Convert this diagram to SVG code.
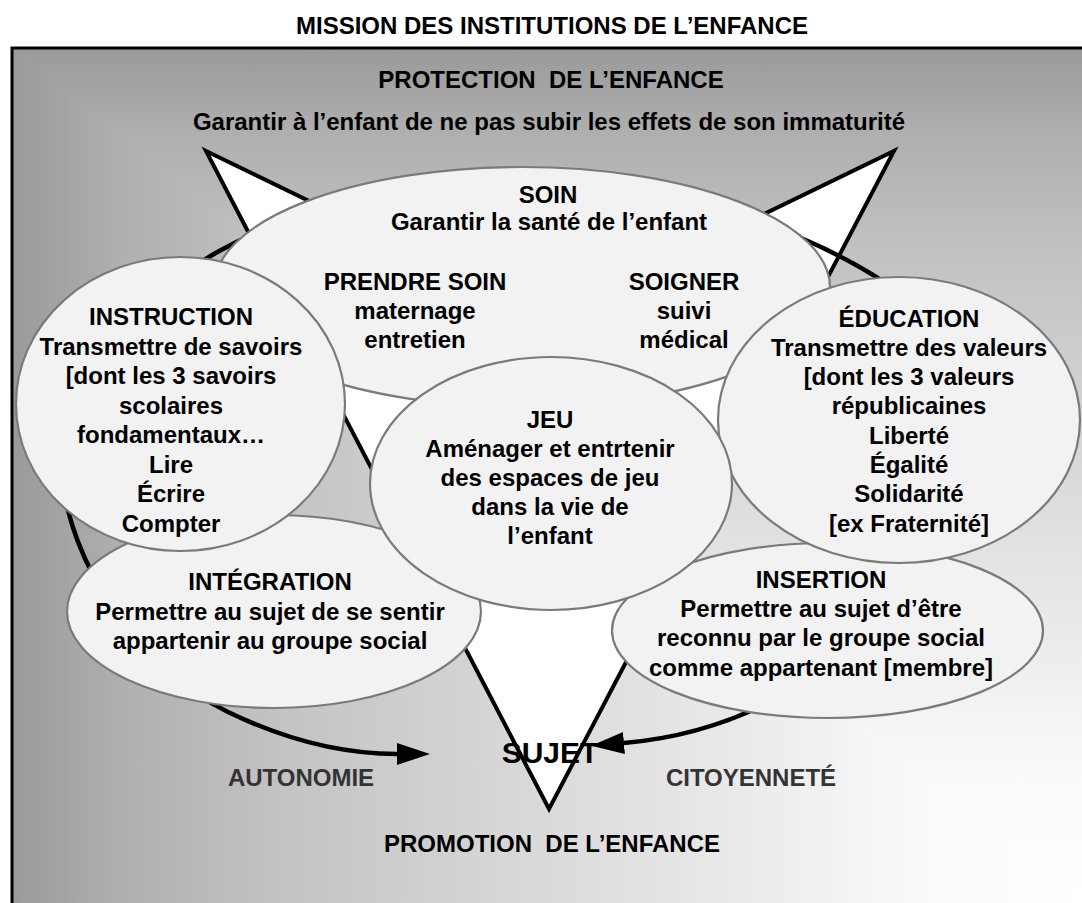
<svg xmlns="http://www.w3.org/2000/svg" width="1082" height="903" viewBox="0 0 1082 903">
<defs>
<style>
text{font-family:"Liberation Sans",Arial,sans-serif;font-weight:bold;font-size:24px;text-anchor:middle;fill:#000}
.node ellipse{fill:#f2f2f2;stroke:#7a7a7a;stroke-width:2.2}
.muted{fill:#333}
.arc{fill:none;stroke:#000;stroke-width:4.5;marker-end:url(#arrow)}
.star{fill:#fff;stroke:#000;stroke-width:4;stroke-linejoin:miter}
</style>
<linearGradient id="gh" gradientUnits="userSpaceOnUse" x1="1082" y1="0" x2="12" y2="0">
<stop offset="0" stop-color="#ffffff"/>
<stop offset="0.15" stop-color="#fafafa"/>
<stop offset="0.3" stop-color="#ececec"/>
<stop offset="0.5" stop-color="#dadada"/>
<stop offset="0.75" stop-color="#c3c3c3"/>
<stop offset="0.9" stop-color="#afafaf"/>
<stop offset="1" stop-color="#9a9a9a"/>
</linearGradient>
<linearGradient id="gv" gradientUnits="userSpaceOnUse" x1="0" y1="903" x2="0" y2="48">
<stop offset="0" stop-color="#ffffff"/>
<stop offset="0.15" stop-color="#fafafa"/>
<stop offset="0.3" stop-color="#ececec"/>
<stop offset="0.5" stop-color="#dadada"/>
<stop offset="0.75" stop-color="#c3c3c3"/>
<stop offset="0.9" stop-color="#afafaf"/>
<stop offset="1" stop-color="#9a9a9a"/>
</linearGradient>
<marker id="arrow" markerUnits="userSpaceOnUse" markerWidth="34" markerHeight="24" refX="0" refY="12" orient="auto" viewBox="0 0 34 24">
<path d="M0,1 L33,12 L0,23 z" fill="#000"/>
</marker>
</defs>
<rect width="1082" height="903" fill="#fff"/>
<g id="background">
<rect x="12" y="48" width="1070" height="855" fill="url(#gv)"/>
<polygon points="12,48 1082,903 12,903" fill="url(#gh)"/>
<rect x="12" y="48" width="1090" height="880" fill="none" stroke="#000" stroke-width="3"/>
</g>
<text x="552" y="34">MISSION DES INSTITUTIONS DE L’ENFANCE</text>
<g id="protection">
<text x="551" y="88" xml:space="preserve">PROTECTION  DE L’ENFANCE</text>
<text x="549" y="130">Garantir à l’enfant de ne pas subir les effets de son immaturité</text>
</g>
<g id="star">
<polygon class="star" points="206,151 550,318 894,151 549,809"/>
</g>
<g id="connectors">
<path class="arc" d="M300,221 C200,238 62,350 62,470 C66,560 140,670 228,712 C290,742 345,754 397,754"/>
<path class="arc" d="M760,222 C920,280 990,360 990,440 C990,520 930,570 870,620 C820,690 720,735 624,743"/>
</g>
<g id="soin" class="node">
<ellipse cx="522" cy="287" rx="308" ry="120"/>
<text x="548" y="203">SOIN</text>
<text x="549" y="230">Garantir la santé de l’enfant</text>
<text x="415" y="290"><tspan x="415">PRENDRE SOIN</tspan><tspan x="415" dy="29">maternage</tspan><tspan x="415" dy="29">entretien</tspan></text>
<text x="684" y="290"><tspan x="684">SOIGNER</tspan><tspan x="684" dy="29">suivi</tspan><tspan x="684" dy="29">médical</tspan></text>
</g>
<g id="integration" class="node">
<ellipse cx="274" cy="611.5" rx="207" ry="96.5"/>
<text x="270" y="590"><tspan x="270">INTÉGRATION</tspan><tspan x="270" dy="29.5">Permettre au sujet de se sentir</tspan><tspan x="270" dy="29.5">appartenir au groupe social</tspan></text>
</g>
<g id="insertion" class="node">
<ellipse cx="827.5" cy="630.5" rx="215.5" ry="87.5"/>
<text x="821" y="588"><tspan x="821">INSERTION</tspan><tspan x="821" dy="29.2">Permettre au sujet d’être</tspan><tspan x="821" dy="29.2">reconnu par le groupe social</tspan><tspan x="821" dy="29.2">comme appartenant [membre]</tspan></text>
</g>
<g id="instruction" class="node">
<ellipse cx="180.5" cy="404" rx="164.5" ry="147"/>
<text x="171" y="325"><tspan x="171">INSTRUCTION</tspan><tspan x="171" dy="29.5">Transmettre de savoirs</tspan><tspan x="171" dy="29.5">[dont les 3 savoirs</tspan><tspan x="171" dy="29.5">scolaires</tspan><tspan x="171" dy="29.5">fondamentaux…</tspan><tspan x="171" dy="29.5">Lire</tspan><tspan x="171" dy="29.5">Écrire</tspan><tspan x="171" dy="29.5">Compter</tspan></text>
</g>
<g id="education" class="node">
<ellipse cx="899" cy="420" rx="181" ry="143"/>
<text x="909" y="326.5"><tspan x="909">ÉDUCATION</tspan><tspan x="909" dy="29.3">Transmettre des valeurs</tspan><tspan x="909" dy="29.3">[dont les 3 valeurs</tspan><tspan x="909" dy="29.3">républicaines</tspan><tspan x="909" dy="29.3">Liberté</tspan><tspan x="909" dy="29.3">Égalité</tspan><tspan x="909" dy="29.3">Solidarité</tspan><tspan x="909" dy="29.3">[ex Fraternité]</tspan></text>
</g>
<g id="jeu" class="node">
<ellipse cx="551" cy="483.5" rx="181" ry="126.5"/>
<text x="550" y="428"><tspan x="550">JEU</tspan><tspan x="550" dy="29">Aménager et entrtenir</tspan><tspan x="550" dy="29">des espaces de jeu</tspan><tspan x="550" dy="29">dans la vie de</tspan><tspan x="550" dy="29">l’enfant</tspan></text>
</g>
<g id="sujet">
<text x="550" y="763" style="font-size:30px">SUJET</text>
</g>
<g id="autonomie"><text class="muted" x="301" y="786">AUTONOMIE</text></g>
<g id="citoyennete"><text class="muted" x="751" y="786">CITOYENNETÉ</text></g>
<g id="promotion"><text x="552" y="852" xml:space="preserve">PROMOTION  DE L’ENFANCE</text></g>
</svg>
